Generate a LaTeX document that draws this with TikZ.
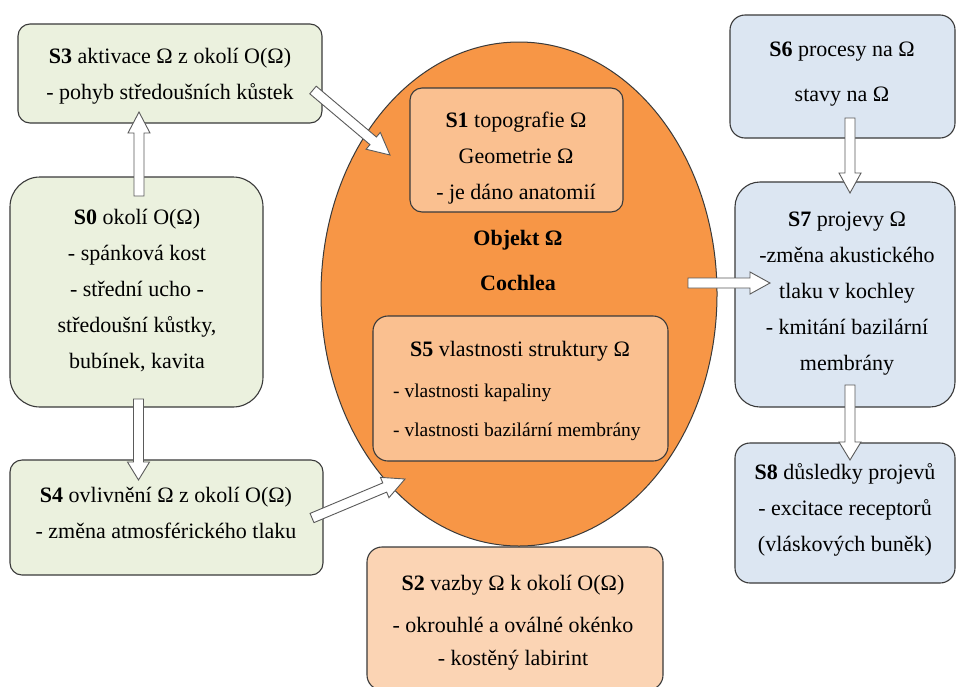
\documentclass[tikz,border=0pt]{standalone}
\usepackage{fontspec}
\setmainfont{Liberation Serif}
\usetikzlibrary{shapes.geometric,calc}
\definecolor{boxgreen}{HTML}{EBF1DE}
\definecolor{boxblue}{HTML}{DCE6F2}
\definecolor{boxorange}{HTML}{FAC090}
\definecolor{boxpeach}{HTML}{FBD4B4}
\definecolor{ellorange}{HTML}{F79646}
\definecolor{boxline}{HTML}{3A3A3A}
\definecolor{arrline}{HTML}{5A5A5A}
\tikzset{
  box/.style={draw=boxline,line width=1.1pt,rounded corners=#1,inner sep=0pt},
  box/.default=12pt,
  txt/.style={align=center,inner sep=0pt,font=\fontsize{22}{36}\selectfont,text=black},
  barrow/.style={draw=arrline,fill=white,line width=0.9pt,line join=miter},
}
\newcommand{\blockarrow}[3]{%
  \coordinate (bh) at ($(#2)!#3!(#1)$);
  \draw[barrow] ($(#1)!5pt!90:(#2)$) -- ($(bh)!5pt!-90:(#1)$) -- ($(bh)!11pt!-90:(#1)$)
    -- (#2) -- ($(bh)!11pt!90:(#1)$) -- ($(bh)!5pt!90:(#1)$) -- ($(#1)!5pt!-90:(#2)$) -- cycle;
}
\begin{document}
\begin{tikzpicture}[x=1pt,y=-1pt]
\useasboundingbox (0,0) rectangle (957,686);
\fill[white] (0,0) rectangle (957,686);
\clip (0,0) rectangle (957,686);

% central object
\node[ellipse,draw=boxline,line width=1pt,fill=ellorange,minimum width=396pt,minimum height=504pt,inner sep=0pt] (obj) at (519,294) {};
\node[box=12pt,fill=boxorange,minimum width=213pt,minimum height=124pt] (s1) at (516.5,150) {};
\node[box=15pt,fill=boxorange,minimum width=295pt,minimum height=145pt] (s5) at (520.5,388.5) {};
\node[box=15pt,fill=boxpeach,minimum width=296pt,minimum height=143pt] (s2) at (515,618.5) {};

% left boxes
\node[box=12pt,fill=boxgreen,minimum width=304pt,minimum height=99pt] (s3) at (170,73.5) {};
\node[box=30pt,fill=boxgreen,minimum width=253pt,minimum height=230pt] (s0) at (136.5,292) {};
\node[box=12pt,fill=boxgreen,minimum width=313pt,minimum height=115pt] (s4) at (166.5,517.5) {};

% right boxes
\node[box=15pt,fill=boxblue,minimum width=225pt,minimum height=123pt] (s6) at (842.5,76.5) {};
\node[box=25pt,fill=boxblue,minimum width=220pt,minimum height=225pt] (s7) at (845,294.5) {};
\node[box=15pt,fill=boxblue,minimum width=220pt,minimum height=140pt] (s8) at (845,513) {};

% texts
\node[txt] (s3t) at (170,76.5) {\textbf{S3} aktivace Ω z okolí O(Ω)\\- pohyb středoušních kůstek};
\node[txt] (s0t) at (137,290.5) {\textbf{S0} okolí O(Ω)\\- spánková kost\\- střední ucho -\\středoušní kůstky,\\bubínek, kavita};
\node[txt] (s4t) at (166,512.5) {\textbf{S4} ovlivnění Ω z okolí O(Ω)\\- změna atmosférického tlaku};
\node[txt] (s1t) at (516,158.5) {\textbf{S1} topografie Ω\\Geometrie Ω\\- je dáno anatomií};
\node[txt,font=\fontsize{22}{36}\selectfont\bfseries] (objt) at (518,260.5) {Objekt Ω\\[9pt]Cochlea};
\node[txt] (s5title) at (520,351) {\textbf{S5} vlastnosti struktury Ω};
\node[txt,align=left,anchor=west,font=\fontsize{19.5}{39}\selectfont] (s5list) at (393,412) {- vlastnosti kapaliny\\- vlastnosti bazilární membrány};
\node[txt] (s2t) at (513,622.5) {\textbf{S2} vazby Ω k okolí O(Ω)\\[6pt]- okrouhlé a oválné okénko\\[-3pt]- kostěný labirint};
\node[txt] (s6t) at (842,74) {\textbf{S6} procesy na Ω\\[9pt]stavy na Ω};
\node[txt] (s7t) at (847,294) {\textbf{S7} projevy Ω\\-změna akustického\\tlaku v kochley\\- kmitání bazilární\\membrány};
\node[txt] (s8t) at (845,510) {\textbf{S8} důsledky projevů\\- excitace receptorů\\(vláskových buněk)};

% arrow ends
\coordinate (a1s) at (139,196);   \coordinate (a1e) at (139,112);
\coordinate (a2s) at (138.5,399); \coordinate (a2e) at (138.5,480);
\coordinate (a3s) at (313,90);    \coordinate (a3e) at (390,155);
\coordinate (a4s) at (312,518);   \coordinate (a4e) at (405,479);
\coordinate (a5s) at (688,283);   \coordinate (a5e) at (770,283);
\coordinate (a6s) at (850,118);   \coordinate (a6e) at (850,193);
\coordinate (a7s) at (850,385);   \coordinate (a7e) at (850,460);

\blockarrow{a1s}{a1e}{21pt}
\blockarrow{a2s}{a2e}{18pt}
\blockarrow{a3s}{a3e}{22pt}
\blockarrow{a4s}{a4e}{22pt}
\blockarrow{a5s}{a5e}{20pt}
\blockarrow{a6s}{a6e}{20pt}
\blockarrow{a7s}{a7e}{18pt}
\end{tikzpicture}
\end{document}
